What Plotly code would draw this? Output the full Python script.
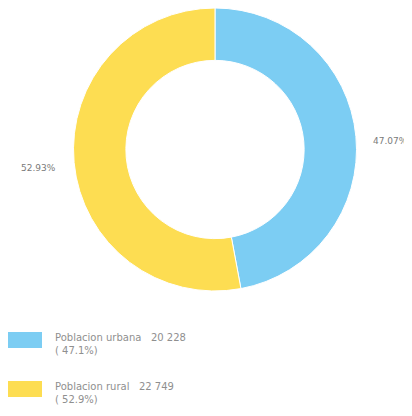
import plotly.graph_objects as go

labels = ["Poblacion urbana", "Poblacion rural"]
values = [20228, 22749]
colors = ["#7CCDF3", "#FDDD52"]

# page body has an 8px margin; size the figure so it fills the rest of the window
OFF = 8
W, H = 412 - OFF, 416 - OFF
total = sum(values)
pcts = [v / total * 100 for v in values]


def px(x):
    return (x - OFF) / W


def py(y):
    return min(1.0, max(0.0, 1 - (y - OFF) / H))


cx, cy, r = 215, 149, 142

fig = go.Figure()
fig.add_trace(go.Pie(
    labels=labels, values=values, sort=False, direction="clockwise", rotation=0,
    hole=0.63, textinfo="none", hoverinfo="label+value+percent",
    marker=dict(colors=colors, line=dict(color="white", width=1)),
    domain=dict(x=[px(cx - r), px(cx + r)], y=[py(cy + r), py(cy - r)]),
    showlegend=False,
))

font = dict(family="DejaVu Sans, sans-serif", size=9, color="#7a7a7a")
lfont = dict(family="DejaVu Sans, sans-serif", size=10, color="#8f8f8f")

# outside percentage labels
fig.add_annotation(x=px(371), y=py(141), xref="paper", yref="paper", xanchor="left", yanchor="middle",
                   text=f"{pcts[0]:.2f}%", showarrow=False, font=font)
fig.add_annotation(x=px(58), y=py(168), xref="paper", yref="paper", xanchor="right", yanchor="middle",
                   text=f"{pcts[1]:.2f}%", showarrow=False, font=font)

# manual legend
legend_tops = [332, 381]
for i, (lab, val, col, p) in enumerate(zip(labels, values, colors, pcts)):
    top = legend_tops[i]
    fig.add_shape(type="rect", xref="paper", yref="paper",
                  x0=px(8), x1=px(42), y0=py(top), y1=py(top + 16),
                  fillcolor=col, line=dict(width=0))
    num = f"{val:,}".replace(",", " ")
    fig.add_annotation(x=px(53), y=py(top - 2), xref="paper", yref="paper",
                       xanchor="left", yanchor="top", align="left", showarrow=False,
                       text=f"{lab}   {num}<br>( {p:.1f}%)", font=lfont)

fig.update_layout(width=W, height=H, margin=dict(l=0, r=0, t=0, b=0),
                  paper_bgcolor="white", plot_bgcolor="white")
fig.write_html("out.html")
